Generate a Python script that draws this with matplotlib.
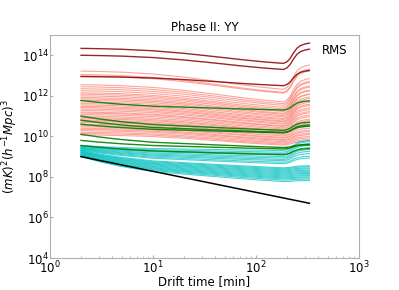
import numpy as np
import matplotlib
matplotlib.use('Agg')
import matplotlib.pyplot as plt

# drift time knots [min]
drift_time = [2, 3, 5, 10, 20, 40, 70, 120, 185, 200, 215, 230, 250, 270, 300, 330]

# fraction of the early decline reached at each knot
decline_red = [0, 0.02, 0.06, 0.16, 0.33, 0.55, 0.74, 0.9, 1, 1, 1, 1, 1, 1, 1, 1]
decline_blue = [0, 0.2, 0.4, 0.6, 0.7, 0.8, 0.88, 0.95, 1, 1, 1, 1, 1, 1, 1, 1]
# fraction of the late rise reached at each knot
late_rise = [0, 0, 0, 0, 0, 0, 0, 0, 0, 0.08, 0.25, 0.5, 0.75, 0.88, 0.96, 1.0]

# log10 power: level at 2 min, drop until 185 min, rise after
darkred_start = [14.34, 14.0, 12.95]
darkred_drop = [0.74, 0.7, 0.45]
darkred_rise = [1.0, 1.0, 0.75]

salmon_start = [13.22, 13.05, 12.98, 12.55, 12.45, 12.35, 12.25, 12.15, 12.08, 12.0,
                11.92, 11.85, 11.78, 11.7, 11.62, 11.55, 11.48, 11.42, 11.35, 11.28,
                11.2, 11.15, 11.08, 11.0, 10.93, 10.87, 10.8, 10.74, 10.68, 10.6,
                10.53, 10.47, 10.4, 10.34, 10.28, 10.2, 10.14, 10.07]
salmon_drop = [0.9, 0.88, 0.85, 0.85, 0.84, 0.82, 0.82, 0.8, 0.8, 0.78,
               0.78, 0.76, 0.76, 0.74, 0.74, 0.72, 0.72, 0.7, 0.7, 0.68,
               0.68, 0.66, 0.66, 0.64, 0.64, 0.62, 0.62, 0.6, 0.6, 0.58,
               0.58, 0.56, 0.56, 0.54, 0.54, 0.52, 0.52, 0.5]
salmon_rise = [1.2, 1.15, 1.1, 1.15, 1.1, 1.12, 1.05, 1.08, 1.0, 1.02,
               0.95, 0.98, 0.92, 0.9, 0.88, 0.85, 0.82, 0.8, 0.75, 0.72,
               0.7, 0.66, 0.62, 0.6, 0.55, 0.52, 0.48, 0.45, 0.42, 0.38,
               0.35, 0.32, 0.3, 0.28, 0.25, 0.24, 0.22, 0.2]

green_start = [11.77, 11.0, 10.8, 10.6, 10.1, 9.8, 9.55]
green_drop = [0.47, 0.7, 0.6, 0.42, 0.65, 0.42, 0.45]
green_rise = [0.45, 0.4, 0.3, 0.38, 0.15, 0.2, 0.3]

cyan_start = [9.55, 9.52, 9.5, 9.47, 9.45, 9.42, 9.4, 9.37, 9.35, 9.32, 9.3, 9.27,
              9.25, 9.22, 9.2, 9.18, 9.15, 9.13, 9.1, 9.08, 9.06, 9.04, 9.02, 9.0]
cyan_drop = [0.25, 0.3, 0.35, 0.39, 0.45, 0.49, 0.54, 0.57, 0.63, 0.67, 0.85, 0.87,
             0.9, 0.92, 0.95, 0.98, 1.0, 1.03, 1.05, 1.08, 1.11, 1.14, 1.18, 1.23]
cyan_rise = [0.5, 0.52, 0.5, 0.48, 0.45, 0.42, 0.4, 0.35, 0.3, 0.28, 0.1, 0.1,
             0.09, 0.09, 0.08, 0.08, 0.07, 0.07, 0.06, 0.06, 0.05, 0.05, 0.05, 0.05]

# thermal noise level
noise_time = [2, 330]
noise_level = [9.0, 6.7]


def draw_group(ax, start, drop, rise, decline, color, lw, alpha):
    t = np.array(drift_time)
    for s, d, r in zip(start, drop, rise):
        y = s - d * np.array(decline) + r * np.array(late_rise)
        ax.plot(t, 10 ** y, color=color, lw=lw, alpha=alpha)


fig = plt.figure(figsize=(3.99, 2.9), dpi=100)
ax = fig.add_axes([50 / 399, 1 - 258 / 290, 309 / 399, 223 / 290])

draw_group(ax, salmon_start, salmon_drop, salmon_rise, decline_red, 'salmon', 0.8, 0.7)
draw_group(ax, darkred_start, darkred_drop, darkred_rise, decline_red, 'darkred', 1.0, 0.85)
draw_group(ax, cyan_start, cyan_drop, cyan_rise, decline_blue, 'c', 0.8, 0.7)
draw_group(ax, green_start, green_drop, green_rise, decline_blue, 'green', 1.0, 0.9)
ax.plot(noise_time, 10 ** np.array(noise_level), color='k', lw=1.1)

ax.set_xscale('log')
ax.set_yscale('log')
ax.set_xlim(1, 1e3)
ax.set_ylim(1e4, 1e15)
ax.set_yticks([1e4, 1e6, 1e8, 1e10, 1e12, 1e14])
ax.tick_params(labelsize=8.5, color='#b0b0b0', length=2, direction='in')
ax.tick_params(axis='x', pad=1)
ax.tick_params(axis='y', pad=1)
ax.tick_params(which='minor', color='#b0b0b0', length=1.5, direction='in')
ax.yaxis.set_minor_locator(matplotlib.ticker.NullLocator())
for sp in ax.spines.values():
    sp.set_color('#b0b0b0')

ax.set_title('Phase II: YY', fontsize=8.5, pad=3)
ax.set_xlabel('Drift time [min]', fontsize=8.5)
ax.xaxis.set_label_coords(0.5, -0.075)
ax.set_ylabel(r'$(mK)^2(h^{-1}Mpc)^3$', fontsize=8.5)
ax.yaxis.set_label_coords(-0.097, 0.5)
ax.text(322, 240, 'RMS', fontsize=8.5, va='center', ha='left', transform=None)

fig.savefig('out.png', dpi=100)
